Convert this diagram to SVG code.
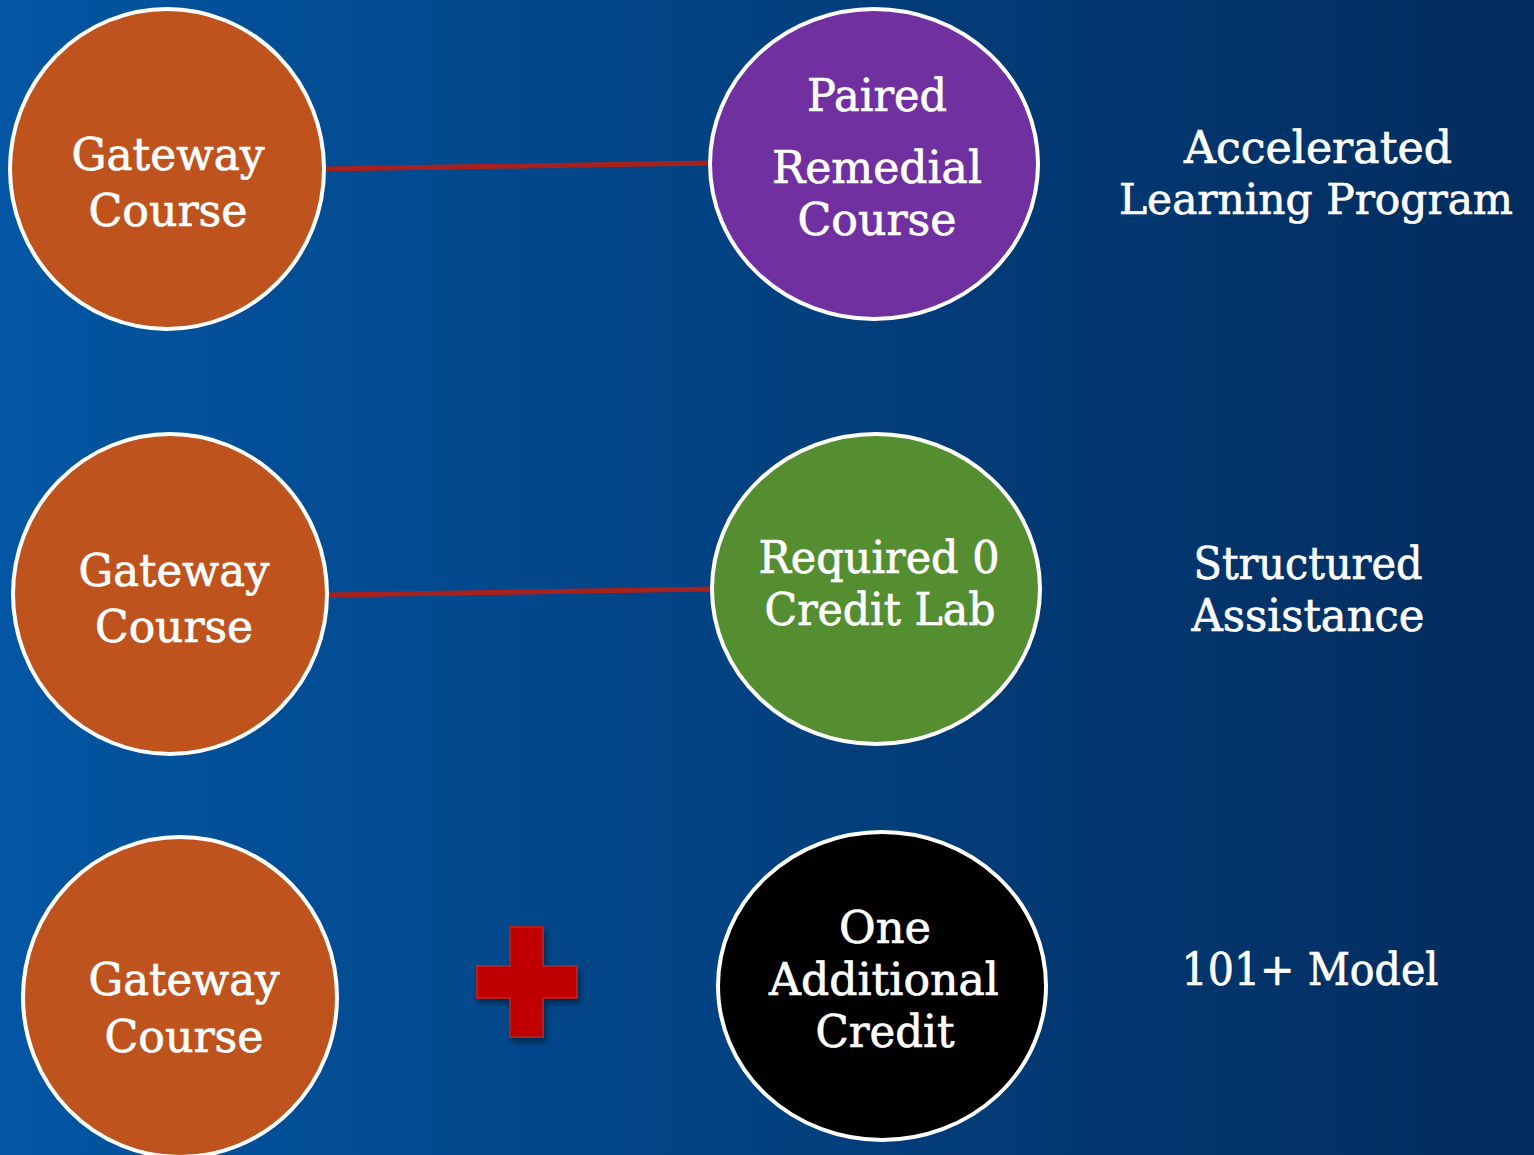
<svg xmlns="http://www.w3.org/2000/svg" width="1534" height="1155" viewBox="0 0 1534 1155">
<style>
.node{stroke:#ffffff;stroke-width:4}
.t{font-family:"DejaVu Serif","Liberation Serif",serif;font-size:45px;fill:#ffffff;stroke:#ffffff;stroke-width:0.7;text-anchor:middle}
.conn{stroke:#A8211E;stroke-width:5;fill:none}
</style>
<defs>
<linearGradient id="bg" x1="0" y1="0" x2="1" y2="0">
<stop offset="0" stop-color="#0256A3"/>
<stop offset="1" stop-color="#022C5D"/>
</linearGradient>
<filter id="sh" x="-30%" y="-30%" width="160%" height="160%">
<feDropShadow dx="2" dy="4" stdDeviation="3" flood-color="#000" flood-opacity="0.45"/>
</filter>
</defs>
<rect width="1534" height="1155" fill="url(#bg)"/>
<g id="connectors">
<line class="conn" x1="325" y1="169" x2="710" y2="163"/>
<line class="conn" x1="328" y1="595" x2="713" y2="589"/>
</g>
<g id="gateway1">
<ellipse class="node" cx="167" cy="169" rx="157" ry="160" fill="#BE531E"/>
<text class="t" x="168" y="170" textLength="193" lengthAdjust="spacingAndGlyphs">Gateway</text>
<text class="t" x="168" y="226" textLength="159" lengthAdjust="spacingAndGlyphs">Course</text>
</g>
<g id="paired">
<ellipse class="node" cx="874" cy="164" rx="164" ry="155" fill="#7030A0"/>
<text class="t" x="877" y="111" textLength="140" lengthAdjust="spacingAndGlyphs">Paired</text>
<text class="t" x="877" y="183" textLength="210" lengthAdjust="spacingAndGlyphs">Remedial</text>
<text class="t" x="877" y="235" textLength="159" lengthAdjust="spacingAndGlyphs">Course</text>
</g>
<g id="label1">
<text class="t" x="1318" y="163" textLength="268" lengthAdjust="spacingAndGlyphs">Accelerated</text>
<text class="t" x="1316" y="214" style="font-size:42px" textLength="394" lengthAdjust="spacingAndGlyphs">Learning Program</text>
</g>
<g id="gateway2">
<ellipse class="node" cx="170" cy="594" rx="157" ry="160" fill="#BE531E"/>
<text class="t" x="174" y="586" textLength="191" lengthAdjust="spacingAndGlyphs">Gateway</text>
<text class="t" x="174" y="642" textLength="158" lengthAdjust="spacingAndGlyphs">Course</text>
</g>
<g id="lab">
<ellipse class="node" cx="876" cy="589" rx="164" ry="155" fill="#548E31"/>
<text class="t" x="879" y="573" textLength="241" lengthAdjust="spacingAndGlyphs">Required 0</text>
<text class="t" x="880" y="625" textLength="231" lengthAdjust="spacingAndGlyphs">Credit Lab</text>
</g>
<g id="label2">
<text class="t" x="1308" y="579" textLength="229" lengthAdjust="spacingAndGlyphs">Structured</text>
<text class="t" x="1308" y="631" textLength="233" lengthAdjust="spacingAndGlyphs">Assistance</text>
</g>
<g id="gateway3">
<ellipse class="node" cx="180" cy="997" rx="157" ry="160" fill="#BE531E"/>
<text class="t" x="184" y="995" textLength="191" lengthAdjust="spacingAndGlyphs">Gateway</text>
<text class="t" x="184" y="1052" textLength="159" lengthAdjust="spacingAndGlyphs">Course</text>
</g>
<g id="plus" filter="url(#sh)">
<path d="M510,927 H543 V966 H577 V998 H543 V1037 H510 V998 H477 V966 H510 Z" fill="#C00000" stroke="#B02020" stroke-width="2"/>
</g>
<g id="credit">
<ellipse class="node" cx="882" cy="986" rx="164" ry="154" fill="#000000"/>
<text class="t" x="885" y="943" textLength="92" lengthAdjust="spacingAndGlyphs">One</text>
<text class="t" x="884" y="995" textLength="230" lengthAdjust="spacingAndGlyphs">Additional</text>
<text class="t" x="885" y="1047" textLength="139" lengthAdjust="spacingAndGlyphs">Credit</text>
</g>
<g id="label3">
<text class="t" x="1310" y="985" textLength="257" lengthAdjust="spacingAndGlyphs">101+ Model</text>
</g>
</svg>
